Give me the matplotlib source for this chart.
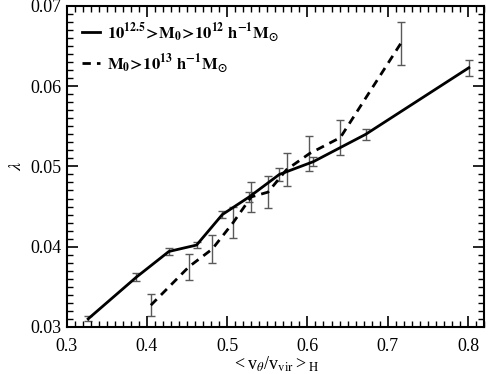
import matplotlib
matplotlib.use("Agg")
import matplotlib.pyplot as plt
from matplotlib.ticker import MultipleLocator

plt.rcParams['font.family'] = ['Liberation Serif', 'DejaVu Serif']
plt.rcParams['mathtext.fontset'] = 'stix'

# Series 1: 10^12.5 > M0 > 10^12
x1 = [0.327, 0.387, 0.4275, 0.4620, 0.494, 0.5275, 0.565, 0.6075, 0.6725, 0.801]
y1 = [0.0310, 0.0362, 0.0394, 0.0402, 0.0440, 0.0462, 0.0490, 0.0506, 0.0540, 0.0623]
e1 = [0.0003, 0.0005, 0.0004, 0.0004, 0.0004, 0.0006, 0.0008, 0.0006, 0.0007, 0.0010]

# Series 2: M0 > 10^13
x2 = [0.405, 0.4525, 0.4815, 0.5075, 0.530, 0.551, 0.574, 0.6025, 0.641, 0.716]
y2 = [0.0327, 0.0375, 0.0397, 0.0430, 0.0462, 0.0468, 0.0496, 0.0516, 0.0536, 0.0653]
e2 = [0.0014, 0.0016, 0.0017, 0.0019, 0.0019, 0.0020, 0.0021, 0.0022, 0.0022, 0.0027]

labels = [r'$\mathbf{10^{12.5}\!>\!M_0\!>\!10^{12}\ h^{-1}M_{\odot}}$',
          r'$\mathbf{M_0\!>\!10^{13}\ h^{-1}M_{\odot}}$']

fig = plt.figure(figsize=(4.89, 3.74), dpi=100)
ax = fig.add_axes([0.136, 0.126, 0.854, 0.858])

ax.errorbar(x1, y1, yerr=e1, fmt='none', ecolor='0.35', elinewidth=1.0, capsize=3, capthick=1.0, zorder=1)
ax.errorbar(x2, y2, yerr=e2, fmt='none', ecolor='0.35', elinewidth=1.0, capsize=3, capthick=1.0, zorder=1)
ax.plot(x1, y1, color='black', lw=2.0, ls='-', label=labels[0], zorder=2)
ax.plot(x2, y2, color='black', lw=2.0, ls=(0, (3, 2.2)), label=labels[1], zorder=2)

ax.set_xlim(0.3, 0.82)
ax.set_ylim(0.03, 0.07)
ax.xaxis.set_major_locator(MultipleLocator(0.1))
ax.xaxis.set_minor_locator(MultipleLocator(0.01))
ax.yaxis.set_major_locator(MultipleLocator(0.01))
ax.yaxis.set_minor_locator(MultipleLocator(0.001))
ax.tick_params(which='both', direction='in', top=True, right=True, labelsize=13)
ax.tick_params(axis='x', which='major', pad=8)
ax.tick_params(which='major', length=8, width=1.2)
ax.tick_params(which='minor', length=4, width=1.0)
for s in ax.spines.values():
    s.set_linewidth(1.5)

ax.set_xlabel(r'$\mathregular{<}$v$_\theta$/v$_\mathrm{vir}$$\mathregular{>}_\mathrm{H}$', fontsize=13, labelpad=0)
ax.set_ylabel(r'$\lambda$', fontsize=13, labelpad=4)

leg = ax.legend(loc='upper left', frameon=False, fontsize=12, handlelength=1.1,
                handletextpad=0.4, borderaxespad=0.5, labelspacing=0.45)

fig.savefig('out.png', dpi=100)
